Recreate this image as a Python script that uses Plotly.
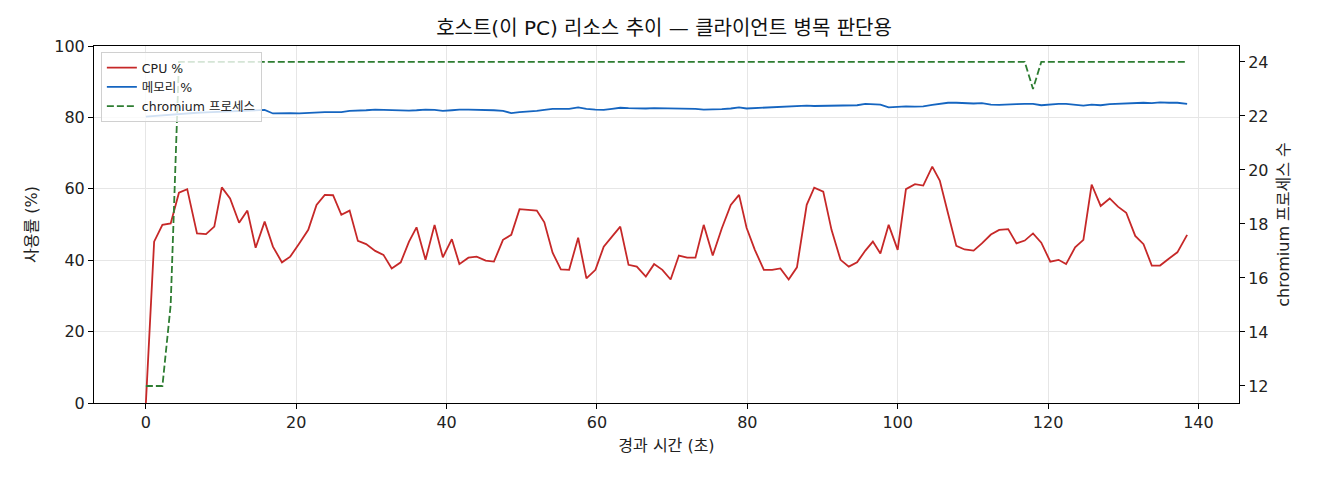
import plotly.graph_objects as go

# sample times (s) and host metrics
t = [0, 1.1, 2.2, 3.3, 4.4, 5.5, 6.8, 8.0, 9.1, 10.1, 11.2, 12.4, 13.5, 14.6, 15.8, 16.9, 18.1, 19.2,
     20.4, 21.6, 22.7, 23.8, 24.9, 26.0, 27.1, 28.2, 29.3, 30.5, 31.6, 32.7, 33.9, 35.0, 36.0, 37.2,
     38.4, 39.5, 40.7, 41.7, 42.9, 44.0, 45.2, 46.3, 47.5, 48.6, 49.7, 50.9, 52.0, 53.0, 54.1, 55.2,
     56.3, 57.5, 58.6, 59.8, 60.9, 62.0, 63.1, 64.2, 65.3, 66.5, 67.6, 68.7, 69.8, 70.9, 72.0, 73.1,
     74.2, 75.4, 76.6, 77.8, 78.9, 79.9, 81.0, 82.2, 83.3, 84.4, 85.5, 86.6, 87.9, 88.9, 90.1, 91.2,
     92.4, 93.5, 94.6, 95.7, 96.7, 97.7, 98.8, 100.0, 101.1, 102.3, 103.4, 104.6, 105.6, 106.7, 107.8,
     108.9, 110.1, 111.2, 112.4, 113.5, 114.7, 115.8, 116.9, 118.0, 119.1, 120.3, 121.4, 122.4, 123.6,
     124.7, 125.8, 127.0, 128.2, 129.3, 130.4, 131.6, 132.7, 133.8, 134.9, 136.1, 137.2, 138.5]

cpu = [0, 45.2, 49.9, 50.3, 58.9, 59.9, 47.5, 47.3, 49.4, 60.4, 57.3, 50.5, 53.9, 43.5, 50.8, 43.8, 39.4, 41.0,
       44.7, 48.5, 55.5, 58.3, 58.2, 52.7, 53.9, 45.4, 44.5, 42.6, 41.5, 37.7, 39.4, 45.2, 49.2, 40.1,
       49.9, 40.8, 45.9, 38.9, 40.7, 41.0, 39.9, 39.6, 45.7, 47.1, 54.3, 54.1, 53.9, 50.6, 42.1, 37.4,
       37.3, 46.3, 34.9, 37.3, 43.8, 46.6, 49.4, 38.7, 38.2, 35.4, 38.9, 37.3, 34.6, 41.3, 40.7, 40.7,
       49.9, 41.3, 48.9, 55.5, 58.3, 49.1, 42.9, 37.3, 37.3, 37.7, 34.6, 38.0, 55.5, 60.3, 59.2, 48.5,
       40.1, 38.2, 39.4, 42.7, 45.2, 41.9, 49.9, 42.9, 59.9, 61.3, 60.9, 66.2, 62.3, 53.1, 44.0,
       43.0, 42.7, 44.7, 47.2, 48.5, 48.7, 44.7, 45.5, 47.5, 44.9, 39.6, 40.1, 38.9, 43.6,
       45.7, 61.2, 55.2, 57.3, 55.0, 53.3, 46.8, 44.5, 38.5, 38.5, 40.5, 42.2, 47.1]

mem = [80.2, 80.4, 80.6, 80.8, 81.0, 81.2, 81.3, 81.4, 81.5, 81.6, 81.7, 81.8, 81.9, 82.0, 82.1, 81.1, 81.2, 81.2,
       81.1, 81.3, 81.4, 81.5, 81.5, 81.5, 81.8, 81.8, 82.0, 82.2, 82.1, 82.1, 81.9, 81.9, 82.0, 82.2,
       82.1, 81.8, 82.0, 82.2, 82.2, 82.2, 82.2, 82.0, 81.8, 81.2, 81.5, 81.6, 81.8, 82.1, 82.4, 82.4,
       82.4, 82.8, 82.4, 82.2, 82.1, 82.4, 82.7, 82.6, 82.5, 82.5, 82.6, 82.6, 82.6, 82.6, 82.6, 82.4,
       82.2, 82.2, 82.3, 82.5, 82.8, 82.5, 82.6, 82.8, 82.8, 83.1, 83.0, 83.1, 83.3, 83.2, 83.2, 83.3,
       83.3, 83.3, 83.4, 83.8, 83.8, 83.6, 82.8, 83.0, 83.1, 83.0, 83.1, 83.5, 83.8, 84.1, 84.1,
       84.0, 83.9, 84.0, 83.6, 83.5, 83.5, 83.7, 83.8, 83.8, 83.4, 83.7, 83.8, 83.8, 83.5,
       83.3, 83.6, 83.4, 83.7, 83.8, 83.9, 84.0, 84.1, 84.0, 84.2, 84.1, 84.1, 83.8]

procs = [12, 12, 12, 15, 24, 24, 24, 24, 24, 24, 24, 24, 24, 24, 24, 24, 24, 24,
         24, 24, 24, 24, 24, 24, 24, 24, 24, 24, 24, 24, 24, 24, 24, 24,
         24, 24, 24, 24, 24, 24, 24, 24, 24, 24, 24, 24, 24, 24, 24, 24,
         24, 24, 24, 24, 24, 24, 24, 24, 24, 24, 24, 24, 24, 24, 24, 24,
         24, 24, 24, 24, 24, 24, 24, 24, 24, 24, 24, 24, 24, 24, 24, 24,
         24, 24, 24, 24, 24, 24, 24, 24, 24, 24, 24, 24, 24, 24, 24,
         24, 24, 24, 24, 24, 24, 24, 24, 23, 24, 24, 24, 24, 24,
         24, 24, 24, 24, 24, 24, 24, 24, 24, 24, 24, 24, 24]

x_ticks = [0, 20, 40, 60, 80, 100, 120, 140]
left_ticks = [0, 20, 40, 60, 80, 100]
right_ticks = [12, 14, 16, 18, 20, 22, 24]

FONT = "DejaVu Sans, Noto Sans CJK KR"

fig = go.Figure()
fig.add_trace(go.Scatter(x=t, y=cpu, mode="lines", name="CPU %",
                         line=dict(color="#c62828", width=1.8)))
fig.add_trace(go.Scatter(x=t, y=mem, mode="lines", name="메모리 %",
                         line=dict(color="#1565c0", width=1.8)))
fig.add_trace(go.Scatter(x=t, y=procs, mode="lines", name="chromium 프로세스",
                         line=dict(color="#2e7d32", width=1.8, dash="7px,3px"), yaxis="y2"))

axis_common = dict(showline=True, linecolor="black", linewidth=1, ticks="outside",
                   ticklen=5, tickcolor="black", tickfont=dict(size=16, color="#222"))

# page body adds an 8px offset, so the figure is a little smaller than the window
fig.update_layout(
    width=1312, height=472,
    paper_bgcolor="white", plot_bgcolor="white",
    font=dict(family=FONT, color="#222"),
    margin=dict(l=86, r=81, t=38, b=77),
    title=dict(text="호스트(이 PC) 리소스 추이 — 클라이언트 병목 판단용", x=0.5, xanchor="center",
               y=0.957, yanchor="middle", font=dict(size=20, color="#111")),
    xaxis=dict(range=[-6.9, 145.4], tickvals=x_ticks, showgrid=True, gridcolor="#e6e6e6",
               zeroline=False, mirror=True,
               title=dict(text="경과 시간 (초)", font=dict(size=16), standoff=8), **axis_common),
    yaxis=dict(range=[0, 100], tickvals=left_ticks, showgrid=True, gridcolor="#e6e6e6",
               zeroline=False,
               title=dict(text="사용률 (%)", font=dict(size=16), standoff=12), **axis_common),
    yaxis2=dict(range=[11.37, 24.59], tickvals=right_ticks, overlaying="y", side="right",
                showgrid=False, zeroline=False,
                title=dict(text="chromium 프로세스 수", font=dict(size=16), standoff=10), **axis_common),
    legend=dict(x=0.006, y=0.983, xanchor="left", yanchor="top",
                bgcolor="rgba(255,255,255,0.8)", bordercolor="#d0d0d0", borderwidth=1,
                font=dict(size=12.5, color="#222")),
)

fig.write_html("out.html")
